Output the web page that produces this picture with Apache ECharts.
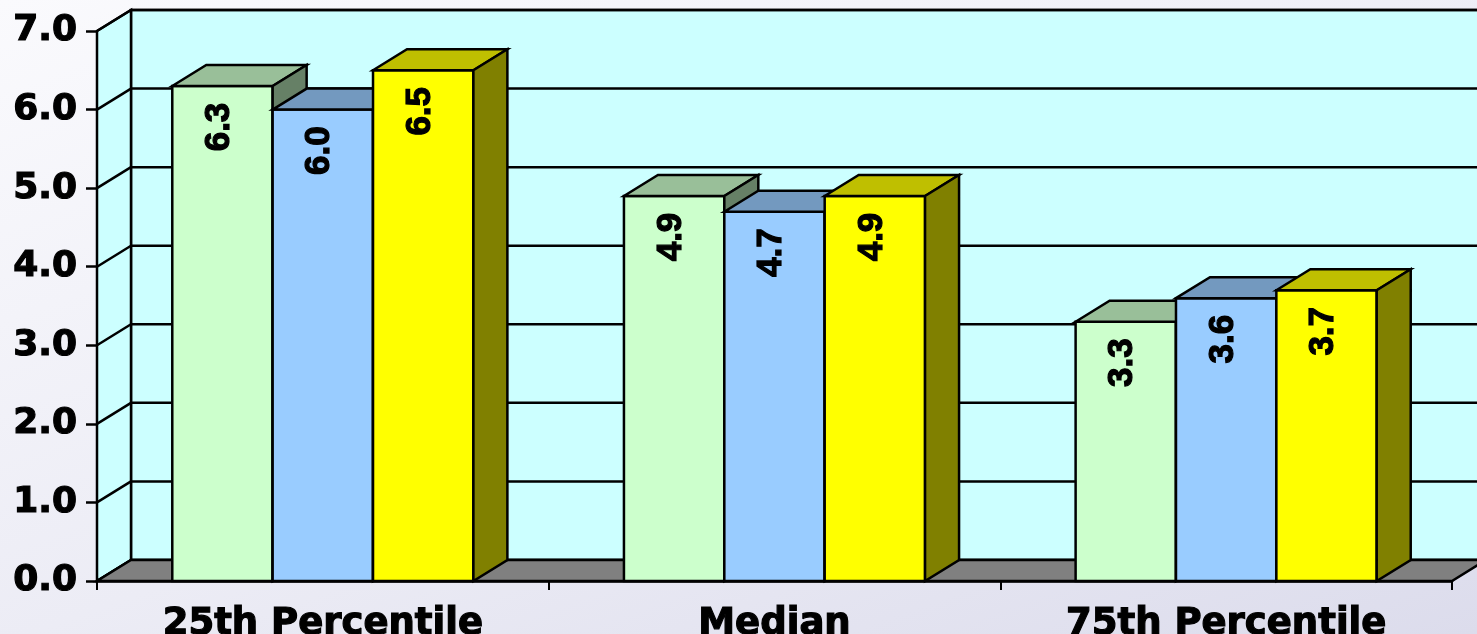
<!DOCTYPE html>
<html>
<head>
<meta charset="utf-8">
<title>Percentile comparison</title>
<script src="https://cdn.jsdelivr.net/npm/echarts@6/dist/echarts.min.js"></script>
<style>
  html, body { margin: 0; padding: 0; }
  #chart {
    width: 1477px; height: 634px;
    background: linear-gradient(160deg, #fafafd 0%, #ececf5 55%, #dcdcec 100%);
  }
</style>
</head>
<body>
<div id="chart"></div>
<script>
// Categories and values for the three series
const categories = ['25th Percentile', 'Median', '75th Percentile'];
const seriesGreen = [6.3, 4.9, 3.3];
const seriesBlue = [6.0, 4.7, 3.6];
const seriesYellow = [6.5, 4.9, 3.7];
const yTickValues = [0, 1, 2, 3, 4, 5, 6, 7];

// Depth of the 3D box (screen offset of the back plane)
const DX = 34, DY = -21;
const EDGE = '#000000';
const LW = 2.5;

const palette = [
  { front: '#ccffcc', top: '#99bf99', side: '#668066' },
  { front: '#99ccff', top: '#7399bf', side: '#4d6680' },
  { front: '#ffff00', top: '#bfbf00', side: '#808000' }
];

function renderWalls(params, api) {
  const cs = params.coordSys;
  const x0 = cs.x, xR = cs.x + cs.width;
  const yBase = api.coord([0, 0])[1];
  const yTop = api.coord([0, yTickValues[yTickValues.length - 1]])[1];
  const children = [];
  // back wall
  children.push({ type: 'polygon', shape: { points: [
    [x0 + DX, yTop + DY], [xR + DX, yTop + DY], [xR + DX, yBase + DY], [x0 + DX, yBase + DY]
  ] }, style: { fill: '#ccffff', stroke: EDGE, lineWidth: LW } });
  // left wall
  children.push({ type: 'polygon', shape: { points: [
    [x0, yTop], [x0 + DX, yTop + DY], [x0 + DX, yBase + DY], [x0, yBase]
  ] }, style: { fill: '#ccffff', stroke: EDGE, lineWidth: LW } });
  // gridlines on both walls
  yTickValues.forEach(function (v) {
    const y = api.coord([0, v])[1];
    children.push({ type: 'line', shape: { x1: x0, y1: y, x2: x0 + DX, y2: y + DY },
      style: { stroke: EDGE, lineWidth: LW } });
    children.push({ type: 'line', shape: { x1: x0 + DX, y1: y + DY, x2: xR + DX, y2: y + DY },
      style: { stroke: EDGE, lineWidth: LW } });
  });
  // floor
  children.push({ type: 'polygon', shape: { points: [
    [x0, yBase], [xR, yBase], [xR + DX, yBase + DY], [x0 + DX, yBase + DY]
  ] }, style: { fill: '#808080', stroke: EDGE, lineWidth: LW } });
  return { type: 'group', children: children };
}

function makeBarRenderer(idx) {
  const col = palette[idx];
  return function (params, api) {
    const cat = api.value(0), val = api.value(1);
    const topPt = api.coord([cat, val]);
    const basePt = api.coord([cat, 0]);
    const band = api.size([1, 0])[0];
    const w = band / 4.5;
    const l = topPt[0] - 1.5 * w + idx * w;
    const r = l + w;
    const t = topPt[1], b = basePt[1];
    return {
      type: 'group',
      children: [
        { type: 'polygon', shape: { points: [[l, t], [r, t], [r, b], [l, b]] },
          style: { fill: col.front, stroke: EDGE, lineWidth: LW } },
        { type: 'polygon', shape: { points: [[l, t], [l + DX, t + DY], [r + DX, t + DY], [r, t]] },
          style: { fill: col.top, stroke: EDGE, lineWidth: LW } },
        { type: 'polygon', shape: { points: [[r, t], [r + DX, t + DY], [r + DX, b + DY], [r, b]] },
          style: { fill: col.side, stroke: EDGE, lineWidth: LW } },
        { type: 'text', x: l + w / 2 - 3, y: t + 41, rotation: Math.PI / 2,
          style: { text: val.toFixed(1), align: 'center', verticalAlign: 'middle',
            font: 'bold 35px "Liberation Sans", Arial, sans-serif', fill: '#000',
            stroke: '#000', lineWidth: 1.2 } }
      ]
    };
  };
}

const chart = echarts.init(document.getElementById('chart'));
const toPairs = arr => arr.map((v, i) => [i, v]);

chart.setOption({
  backgroundColor: 'transparent',
  animation: false,
  grid: { left: 97, right: 25, top: 31, bottom: 53, containLabel: false, outerBoundsMode: 'none' },
  xAxis: {
    type: 'category',
    data: categories,
    boundaryGap: true,
    axisLine: { show: true, lineStyle: { color: '#000', width: LW } },
    axisTick: { show: true, length: 9, lineStyle: { color: '#000', width: 2 } },
    axisLabel: {
      margin: 25, color: '#000',
      fontFamily: '"DejaVu Sans", Verdana, sans-serif', fontWeight: 'bold', fontSize: 37,
      textBorderColor: '#000', textBorderWidth: 1.2
    },
    splitLine: { show: false }
  },
  yAxis: {
    type: 'value', min: 0, max: 7, interval: 1,
    axisLine: { show: true, lineStyle: { color: '#000', width: LW } },
    axisTick: { show: true, length: 11, lineStyle: { color: '#000', width: LW } },
    axisLabel: {
      margin: 20, color: '#000',
      fontFamily: '"DejaVu Sans", Verdana, sans-serif', fontWeight: 'bold', fontSize: 36,
      textBorderColor: '#000', textBorderWidth: 1.2,
      formatter: v => v.toFixed(1)
    },
    splitLine: { show: false }
  },
  series: [
    { type: 'custom', name: 'walls', z: 1, clip: false, renderItem: renderWalls, data: [[0, 0]],
      encode: { x: 0, y: 1 }, silent: true },
    { type: 'custom', name: 'A', z: 2, clip: false, renderItem: makeBarRenderer(0), data: toPairs(seriesGreen), encode: { x: 0, y: 1 } },
    { type: 'custom', name: 'B', z: 3, clip: false, renderItem: makeBarRenderer(1), data: toPairs(seriesBlue), encode: { x: 0, y: 1 } },
    { type: 'custom', name: 'C', z: 4, clip: false, renderItem: makeBarRenderer(2), data: toPairs(seriesYellow), encode: { x: 0, y: 1 } }
  ]
});
</script>
</body>
</html>
